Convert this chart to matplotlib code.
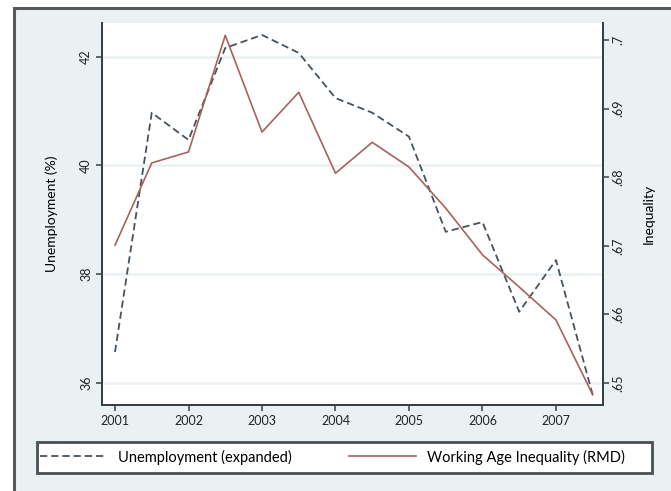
import matplotlib
matplotlib.use('Agg')
import matplotlib.pyplot as plt
from matplotlib.patches import Rectangle
from matplotlib.lines import Line2D

# half-yearly observations, 2001 - 2007.5
years = [2001, 2001.5, 2002, 2002.5, 2003, 2003.5, 2004, 2004.5,
         2005, 2005.5, 2006, 2006.5, 2007, 2007.5]
unemp = [36.57, 40.97, 40.47, 42.16, 42.40, 42.07, 41.24, 40.97,
         40.53, 38.78, 38.96, 37.31, 38.26, 35.78]
inequality = [0.6701, 0.6821, 0.6837, 0.7007, 0.6866, 0.6924, 0.6806, 0.6851,
              0.6815, 0.6755, 0.6687, 0.6640, 0.6592, 0.6483]

x_ticks = [2001, 2002, 2003, 2004, 2005, 2006, 2007]
left_ticks = [36, 38, 40, 42]
right_ticks = [0.65, 0.66, 0.67, 0.68, 0.69, 0.70]
right_labels = ['.65', '.66', '.67', '.68', '.69', '.7']

plt.rcParams['font.family'] = ['Lato', 'DejaVu Sans']

W, H = 671, 491
fig = plt.figure(figsize=(W / 100, H / 100), dpi=100)
fig.patch.set_facecolor('white')

bg = '#eaf1f3'
dark = '#3a3f44'
# outer frame (cropped on right / bottom)
fig.patches.append(Rectangle((14 / W, -0.05), 1.1, 1 - 8 / H + 0.05,
                             transform=fig.transFigure, facecolor=bg,
                             edgecolor='#555a5e', linewidth=2.2, zorder=-10))
# legend box
fig.patches.append(Rectangle((37 / W, 1 - 473 / H), (652 - 37) / W, 31 / H,
                             transform=fig.transFigure, facecolor='white',
                             edgecolor='#4a4f53', linewidth=2, zorder=-5))

ax = fig.add_axes([102 / W, 1 - 405 / H, (603 - 102) / W, (405 - 23) / H])
ax.set_facecolor('white')
ax2 = ax.twinx()

ln1, = ax.plot(years, unemp, color='#44535e', linestyle=(0, (4, 2.2)),
               linewidth=1.3, zorder=3)
ln2, = ax2.plot(years, inequality, color='#a6625f', linewidth=1.2, zorder=3)

ax.set_xlim(2000.823, 2007.64)
ax.set_ylim(35.595, 42.62)
ax2.set_ylim(0.6468, 0.7025)

ax.set_xticks(x_ticks)
ax.set_xticklabels([str(y) for y in x_ticks], fontsize=9)
ax.set_yticks(left_ticks)
ax.set_yticklabels([str(v) for v in left_ticks], fontsize=9, rotation=90, va='center')
ax2.set_yticks(right_ticks)
ax2.set_yticklabels(right_labels, fontsize=9, rotation=90, va='center')

ax.yaxis.grid(True, color='#ebf1f3', linewidth=1.8)
ax.set_axisbelow(True)

for a in (ax, ax2):
    a.spines['top'].set_visible(False)
    for s in ('left', 'right', 'bottom'):
        a.spines[s].set_color(dark)
        a.spines[s].set_linewidth(1.4)
    a.tick_params(direction='out', length=4, width=1.1, color=dark,
                  labelcolor='#222222', pad=3)

ax.set_ylabel('Unemployment (%)', fontsize=10, labelpad=16)
ax2.set_ylabel('Inequality', fontsize=10, rotation=90, labelpad=13)

handles = [Line2D([], [], color='#44535e', linestyle=(0, (4, 2.2)), linewidth=1.3),
           Line2D([], [], color='#a6625f', linewidth=1.2)]
leg = fig.legend(handles, ['Unemployment (expanded)', 'Working Age Inequality (RMD)'],
                 loc='center left', ncol=2,
                 bbox_to_anchor=(40 / W, 1 - 457 / H),
                 fontsize=10.5, handlelength=4.6, handletextpad=0.75,
                 frameon=False, borderaxespad=0, borderpad=0,
                 columnspacing=3.9)

fig.savefig('out.png', dpi=100)
